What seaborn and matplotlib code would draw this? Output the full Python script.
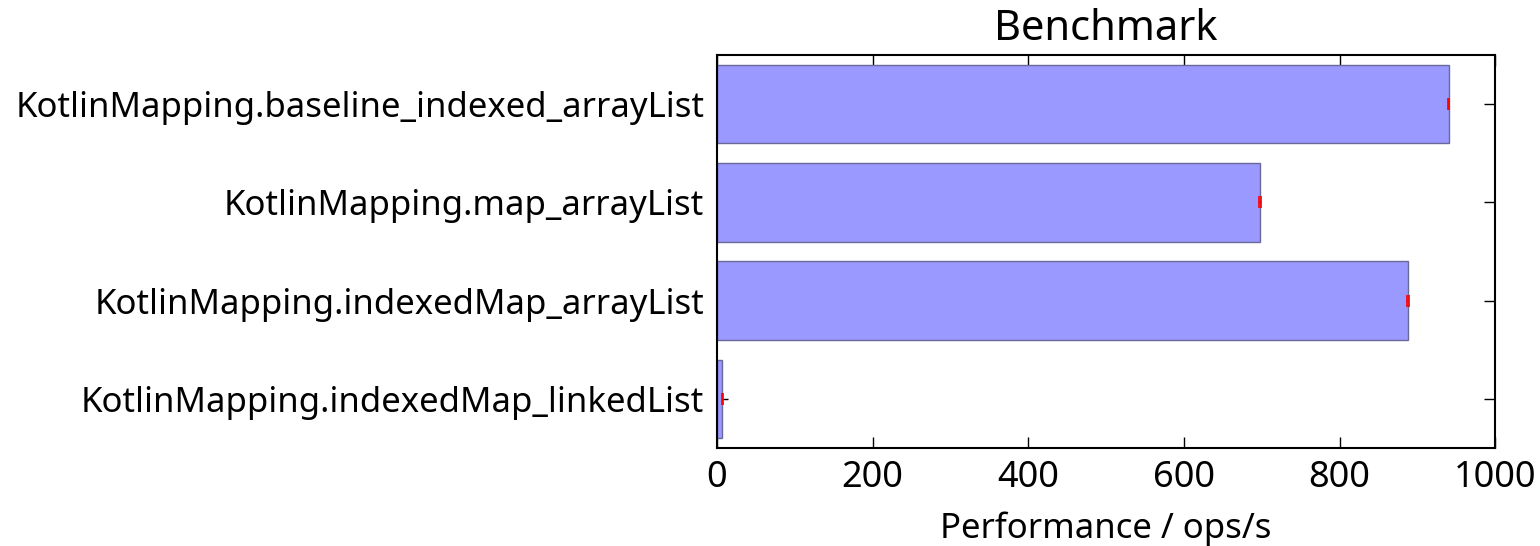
import matplotlib
matplotlib.use("Agg")
import matplotlib.pyplot as plt
import seaborn as sns
import pandas as pd

benchmarks = [
    "KotlinMapping.baseline_indexed_arrayList",
    "KotlinMapping.map_arrayList",
    "KotlinMapping.indexedMap_arrayList",
    "KotlinMapping.indexedMap_linkedList",
]
scores = [940.0, 698.0, 888.0, 7.0]
errors = [1.0, 1.0, 1.0, 1.0]

sns.set_style("ticks")
plt.rcParams["font.family"] = ["Noto Sans", "DejaVu Sans"]
plt.rcParams["text.color"] = "black"
plt.rcParams["axes.labelcolor"] = "black"
plt.rcParams["xtick.color"] = "black"
plt.rcParams["ytick.color"] = "black"

df = pd.DataFrame({"benchmark": benchmarks, "score": scores})

fig = plt.figure(figsize=(15.4, 5.46), dpi=100)
ax = fig.add_axes([0.4655, 0.1795, 0.5055, 0.7198])

sns.barplot(data=df, x="score", y="benchmark", order=benchmarks,
            color="#9999ff", saturation=1, width=0.8,
            edgecolor="#6a6a9a", linewidth=1.0, errorbar=None, ax=ax)
ax.errorbar(scores, range(len(benchmarks)), xerr=errors, fmt="none",
            ecolor="red", elinewidth=1.2, capsize=4.5, capthick=1.2)

ax.set_xlim(0, 1000)
ax.set_ylim(3.5, -0.5)
ax.set_xticks([0, 200, 400, 600, 800, 1000])
ax.set_ylabel("")
ax.set_xlabel("Performance / ops/s", fontsize=25, labelpad=11)
ax.set_title("Benchmark", fontsize=30, pad=11)

ax.tick_params(axis="both", direction="in", length=8, width=1, color="black",
               top=True, right=True, labelsize=25)
ax.tick_params(axis="x", pad=9, labelsize=26)
ax.tick_params(axis="y", pad=9)
for side in ["left", "right", "top", "bottom"]:
    ax.spines[side].set_visible(True)
    ax.spines[side].set_color("black")
    ax.spines[side].set_linewidth(1.5)

fig.savefig("out.png", dpi=100, facecolor="white")
